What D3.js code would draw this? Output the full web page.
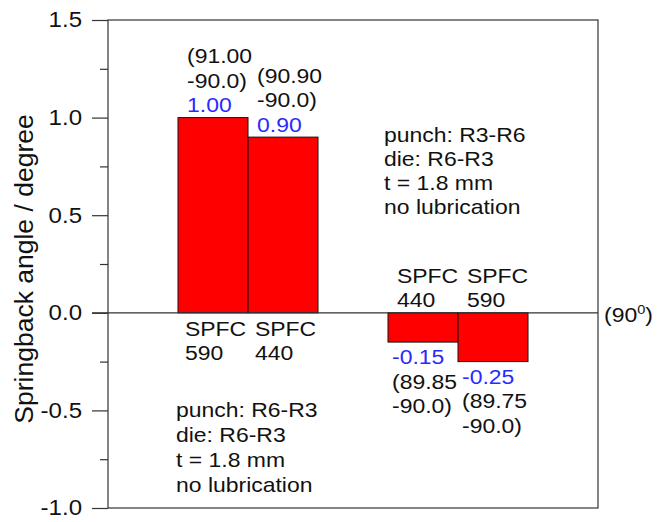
<!DOCTYPE html>
<html>
<head>
<meta charset="utf-8">
<title>Springback angle</title>
<script src="https://cdn.jsdelivr.net/npm/d3@7/dist/d3.min.js"></script>
<style>
body { margin: 0; background: #fff; }
text { font-family: "Liberation Sans", Arial, sans-serif; fill: #111; }
</style>
</head>
<body>
<div id="chart"></div>
<script>
	// data
	var positions = [1, 2, 4, 5];               // slot of each bar on a 7-slot x axis
	var values = [1.00, 0.90, -0.15, -0.25];
	var valueLabels = ["1.00", "0.90", "-0.15", "-0.25"];
	var angleLabels = [["(91.00", "-90.0)"], ["(90.90", "-90.0)"], ["(89.85", "-90.0)"], ["(89.75", "-90.0)"]];
	var grades = [["SPFC", "590"], ["SPFC", "440"], ["SPFC", "440"], ["SPFC", "590"]];
	var yTicks = [-1.0, -0.5, 0.0, 0.5, 1.0, 1.5];
	var yMinorTicks = [-0.75, -0.25, 0.25, 0.75, 1.25];
	var notesTop = ["punch: R3-R6", "die: R6-R3", "t = 1.8 mm", "no lubrication"];
	var notesBottom = ["punch: R6-R3", "die: R6-R3", "t = 1.8 mm", "no lubrication"];

	var W = 664, H = 522;
	var SX = 1.12;      // the original lettering is a bit wider than Arial
	var FS = 20.5;
	var svg = d3.select("#chart").append("svg").attr("width", W).attr("height", H);

	var x = d3.scaleLinear().domain([0, 7]).range([108, 598]);
	var y = d3.scaleLinear().domain([-1, 1.5]).range([508, 20]);
	var bw = x(1) - x(0);
	var lh = 24.5; // line height of labels

	function label(px, py, str, color) {
		return svg.append("text")
			.attr("transform", "translate(" + px + "," + py + ") scale(" + SX + ",1)")
			.attr("font-size", FS).style("fill", color || "#111").text(str);
	}

	// frame
	svg.append("rect").attr("x", x(0)).attr("y", y(1.5))
		.attr("width", x(7) - x(0)).attr("height", y(-1) - y(1.5))
		.attr("fill", "none").attr("stroke", "#333").attr("stroke-width", 1.2);

	// y axis, major and minor ticks outside
	var gy = svg.append("g").attr("transform", "translate(" + x(0) + ",0)");
	gy.call(d3.axisLeft(y).tickValues(yTicks).tickSize(16).tickPadding(7.2)
		.tickFormat(function(d) { return d.toFixed(1); }));
	gy.append("g").call(d3.axisLeft(y).tickValues(yMinorTicks).tickSize(8).tickFormat(""));
	gy.selectAll(".domain").remove();
	gy.selectAll("line").attr("stroke", "#333").attr("stroke-width", 1.2);
	gy.selectAll("text").attr("font-size", 21.5).attr("fill", "#111")
		.attr("transform", "scale(" + SX + ",1)")
		.attr("font-family", "Liberation Sans, Arial, sans-serif");

	svg.append("text").attr("transform", "translate(33," + 269 + ") rotate(-90)")
		.attr("text-anchor", "middle").attr("font-size", 26.5)
		.text("Springback angle / degree");

	// bars
	svg.selectAll("rect.bar").data(values).enter().append("rect")
		.attr("class", "bar")
		.attr("x", function(d, i) { return x(positions[i]); })
		.attr("y", function(d) { return y(Math.max(0, d)); })
		.attr("width", bw)
		.attr("height", function(d) { return Math.abs(y(d) - y(0)); })
		.attr("fill", "#ff0000").attr("stroke", "#111").attr("stroke-width", 1);

	// zero line
	svg.append("line").attr("x1", x(0) - 16).attr("x2", x(7))
		.attr("y1", y(0)).attr("y2", y(0)).attr("stroke", "#333").attr("stroke-width", 1.2);

	var zl = label(x(7) + 6, y(0) + 9, "");
	zl.append("tspan").text("(90");
	zl.append("tspan").attr("dy", -8).attr("font-size", 13).text("0");
	zl.append("tspan").attr("dy", 8).text(")");

	// value and angle labels
	values.forEach(function(v, i) {
		var left = x(positions[i]);
		if (v >= 0) {
			var tx = left + 9, b = y(v) - 5.5;
			label(tx, b, valueLabels[i], "#2a2aff");
			label(tx, b - lh, angleLabels[i][1]);
			label(tx, b - 2 * lh, angleLabels[i][0]);
			// grade below axis
			label(left + 7, y(0) + 23, grades[i][0]);
			label(left + 7, y(0) + 23 + lh, grades[i][1]);
		} else {
			var tx2 = left + 4, b2 = y(v) + 22;
			label(tx2, b2, valueLabels[i], "#2a2aff");
			label(tx2, b2 + lh, angleLabels[i][0]);
			label(tx2, b2 + 2 * lh, angleLabels[i][1]);
			// grade above axis
			label(left + 9, y(0) - 30, grades[i][0]);
			label(left + 9, y(0) - 30 + lh, grades[i][1]);
		}
	});

	// condition notes
	notesTop.forEach(function(t, i) { label(384, 142 + i * 24, t); });
	notesBottom.forEach(function(t, i) { label(176, 416.5 + i * 25, t); });
</script>
</body>
</html>
